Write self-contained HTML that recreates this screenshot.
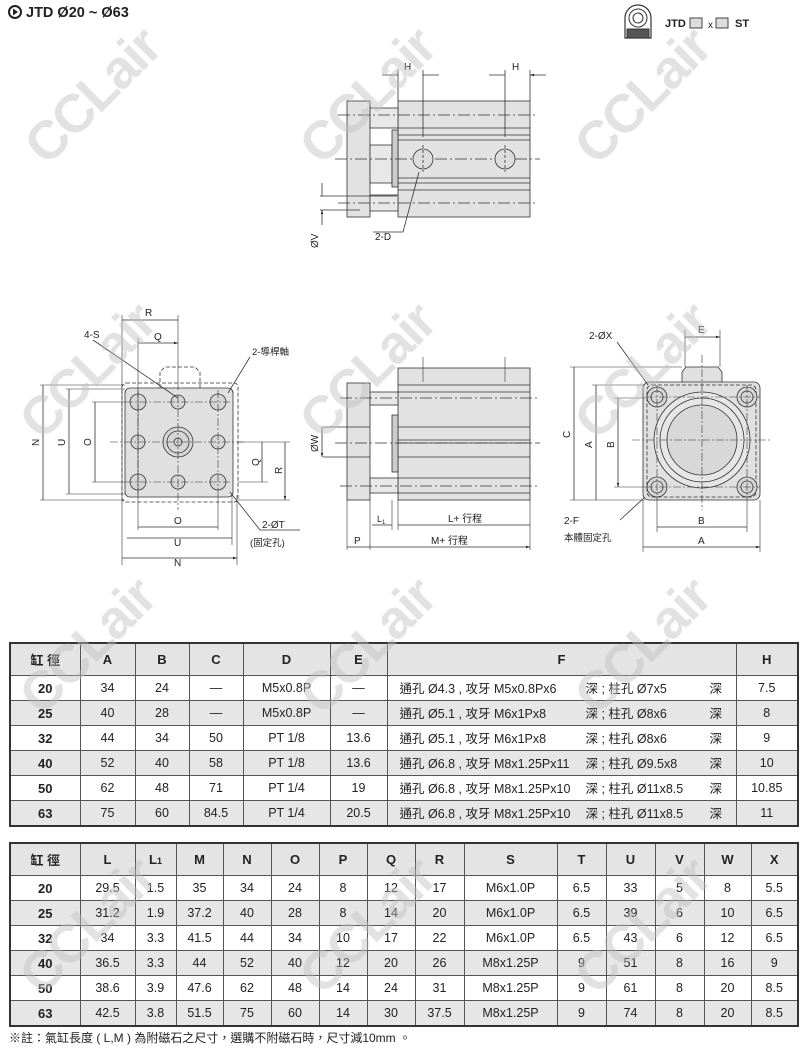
<!DOCTYPE html>
<html><head><meta charset="utf-8"><style>
body{margin:0;width:800px;height:1049px;background:#fff;position:relative;overflow:hidden;font-family:"Liberation Sans","Noto Sans CJK TC",sans-serif}
svg{position:absolute;left:0;top:0}
table{position:absolute;left:9px;border-collapse:collapse;table-layout:fixed;border:2px solid #333;font-family:"Liberation Sans Narrow","Liberation Sans","Noto Sans CJK TC",sans-serif;font-size:12.5px;color:#222}
td{border:1px solid #555;text-align:center;padding:0;height:24px;white-space:nowrap;overflow:hidden}
tr.h td{height:31px;font-weight:bold;font-family:"Liberation Sans","Noto Sans CJK TC",sans-serif;font-size:13px;background:#e4e4e4}
tr.g td{background:#e6e6e6}
td.b{font-weight:bold;font-family:"Liberation Sans",sans-serif;font-size:13px}
td.f{position:relative;text-align:left}
td.f span{position:absolute;top:2px}
.wm{position:absolute;font:bold 54px "Liberation Sans",sans-serif;color:rgba(190,190,190,0.45);transform:rotate(-45deg);white-space:nowrap;letter-spacing:-2px}
</style></head><body>
<svg width="800" height="640" viewBox="0 0 800 640" font-family="Liberation Sans, Noto Sans CJK TC, sans-serif" font-size="10" fill="#222">
<defs><marker id="a" viewBox="0 0 10 10" refX="10" refY="5" markerWidth="7" markerHeight="5" orient="auto-start-reverse"><path d="M0,2 L10,5 L0,8z" fill="#222"/></marker></defs>
<circle cx="15" cy="12" r="6" fill="none" stroke="#222" stroke-width="2"/><path d="M13,8.5 L18,12 L13,15.5z" fill="#222"/>
<text x="26" y="17" font-size="14.5" font-weight="bold">JTD Ø20 ~ Ø63</text>
<g transform="translate(620,0)" fill="none" stroke="#333">
<path d="M5,38 L5,18 A13,13 0 0 1 31,18 L31,38 Z" stroke-width="1.2"/><circle cx="18" cy="18" r="9"/><circle cx="18" cy="18" r="5"/><rect x="7" y="29" width="22" height="9" fill="#555"/></g>
<text x="665" y="27" font-size="11" font-weight="bold">JTD</text>
<rect x="690" y="18" width="12" height="10" fill="#ddd" stroke="#444"/>
<text x="708" y="28" font-size="10">x</text>
<rect x="716" y="18" width="12" height="10" fill="#ddd" stroke="#444"/>
<text x="735" y="27" font-size="11" font-weight="bold">ST</text>

<g stroke="#333" stroke-width="0.8">
<rect x="347" y="101" width="23" height="116" fill="#e2e2e2"/>
<rect x="398" y="101" width="132" height="116" fill="#e2e2e2"/>
<rect x="370" y="108" width="28" height="20" fill="#e8e8e8"/>
<rect x="370" y="145" width="22" height="38" fill="#e8e8e8"/>
<rect x="370" y="195" width="28" height="16" fill="#e8e8e8"/>
<rect x="392" y="130" width="6" height="57" fill="#ccc"/>
<path d="M398,128H530M398,135H530M398,140H530M398,178H530M398,183H530M398,190H530" fill="none"/>
<path d="M338,115H538M335,159H540M338,203H538" stroke-dasharray="12,3,2,3" fill="none"/>
<circle cx="423" cy="159" r="10" fill="#ddd"/><circle cx="505" cy="159" r="10" fill="#ddd"/>
<path d="M423,145V172M505,145V172" stroke-dasharray="3,2"/>
<path d="M398,70V101M423,70V137M505,70V137M530,70V101" fill="none"/>
<path d="M382,75H398M439,75H423M489,75H505M546,75H530" marker-end="url(#a)" fill="none"/>
<path d="M320,196H397M320,210H360" fill="none"/>
<path d="M322,183V196M322,225V210" marker-end="url(#a)" fill="none"/>
<path d="M373,232H403L419,172" fill="none"/>
<rect x="122" y="383" width="116" height="119" rx="4" fill="none" stroke-dasharray="4,2"/>
<rect x="125" y="388" width="108" height="109" rx="5" fill="#e0e0e0"/>
<path d="M160,388V372L165,367H195L200,372V388" fill="none" stroke-dasharray="4,2"/>
<g fill="#d6d6d6">
<circle cx="138" cy="402" r="8"/><circle cx="178" cy="402" r="7"/><circle cx="218" cy="402" r="8"/>
<circle cx="138" cy="442" r="7"/><circle cx="178" cy="442" r="15"/><circle cx="218" cy="442" r="7"/>
<circle cx="138" cy="482" r="8"/><circle cx="178" cy="482" r="7"/><circle cx="218" cy="482" r="8"/></g>
<circle cx="178" cy="442" r="11" fill="none"/><circle cx="178" cy="442" r="4" fill="none"/>
<path d="M110,442H245M178,395V510M125,402H230M125,482H230M138,390V495M218,390V495" stroke-dasharray="8,2,2,2" fill="none" stroke-width="0.6"/>
<path d="M122,315V565M138,338V530M178,315V390M237,495V565M232,495V545M218,495V530M40,385H125M66,389H125M92,402H125M238,442H290M238,482H268M238,500H290" fill="none" stroke-width="0.6"/>
<path d="M150,320H122M150,320H178M158,343H138M158,343H178" marker-end="url(#a)" fill="none"/>
<path d="M43,440V385M43,440V500M69,440V389M69,440V494M95,440V402M95,440V482M262,462V442M262,462V482M285,470V442M285,470V500" marker-end="url(#a)" fill="none"/>
<path d="M40,500H125M66,494H125M92,482H125" fill="none" stroke-width="0.6"/>
<path d="M178,527H138M178,527H218M178,538H127M178,538H232M178,558H122M178,558H237" marker-end="url(#a)" fill="none"/>
<path d="M93,340L178,398M250,357L228,393M300,530H260L230,492" fill="none"/>
<rect x="347" y="383" width="23" height="117" fill="#e2e2e2"/>
<rect x="398" y="368" width="132" height="132" fill="#e2e2e2"/>
<rect x="370" y="392" width="28" height="13" fill="#e8e8e8"/>
<rect x="370" y="478" width="28" height="15" fill="#e8e8e8"/>
<rect x="392" y="415" width="6" height="57" fill="#ccc"/>
<path d="M398,385H530M398,392H530M398,427H530M398,440H530M398,443H530M398,457H530M398,478H530M398,493H530M323,427H370M323,457H370" fill="none"/>
<path d="M340,398H538M335,443H540M340,486H538" stroke-dasharray="12,3,2,3" fill="none"/>
<path d="M423,357V382M505,357V382M347,500V550M370,500V550M392,500V530M398,500V530M530,500V550" fill="none" stroke-width="0.6"/>
<path d="M322,442V427M322,442V457" marker-end="url(#a)" fill="none"/>
<path d="M382,525H372M382,525H392M464,525H398M464,525H530M358,547H347M358,547H370M450,547H370M450,547H530" marker-end="url(#a)" fill="none"/>
<path d="M682,382V372L686,367H718L722,372V382" fill="#e0e0e0"/>
<rect x="643" y="382" width="117" height="118" rx="6" fill="#e0e0e0"/>
<rect x="647" y="385" width="109" height="112" rx="5" fill="none" stroke-dasharray="4,2"/>
<circle cx="702" cy="440" r="48" fill="#e6e6e6"/><circle cx="702" cy="440" r="42" fill="none"/><circle cx="702" cy="440" r="35" fill="#d8d8d8"/>
<g fill="#d6d6d6"><circle cx="657" cy="397" r="10"/><circle cx="747" cy="397" r="10"/><circle cx="657" cy="487" r="10"/><circle cx="747" cy="487" r="10"/></g>
<g fill="none"><circle cx="657" cy="397" r="6"/><circle cx="747" cy="397" r="6"/><circle cx="657" cy="487" r="6"/><circle cx="747" cy="487" r="6"/></g>
<path d="M632,440H772M702,355V510M645,397H760M645,487H760M657,385V500M747,385V500" stroke-dasharray="8,2,2,2" fill="none" stroke-width="0.6"/>
<path d="M685,330V367M720,330V367M570,367H682M592,385H645M614,398H645M570,500H645M592,500H645M614,487H645M643,500V552M760,500V552M657,500V532M747,500V532" fill="none" stroke-width="0.6"/>
<path d="M702,337H685M702,337H720" marker-end="url(#a)" fill="none"/>
<path d="M574,433V367M574,433V500M596,443V385M596,443V500M618,443V398M618,443V487" marker-end="url(#a)" fill="none"/>
<path d="M702,527H657M702,527H747M702,547H643M702,547H760" marker-end="url(#a)" fill="none"/>
<path d="M617,342L648,385M620,520L645,497" fill="none"/>
</g>
<g font-size="10">
<text x="404" y="70">H</text><text x="512" y="70">H</text>
<text x="375" y="240">2-D</text>
<text transform="translate(318,248) rotate(-90)">ØV</text>
<text x="145" y="316">R</text><text x="154" y="340">Q</text><text x="84" y="338">4-S</text>
<text x="252" y="355" font-size="9.5">2-導桿軸</text>
<text x="174" y="524">O</text><text x="174" y="546">U</text><text x="174" y="566">N</text>
<text x="262" y="528">2-ØT</text><text x="250" y="546" font-size="9.5">(固定孔)</text>
<text transform="translate(39,446) rotate(-90)">N</text>
<text transform="translate(65,446) rotate(-90)">U</text>
<text transform="translate(91,446) rotate(-90)">O</text>
<text transform="translate(259,466) rotate(-90)">Q</text>
<text transform="translate(282,474) rotate(-90)">R</text>
<text transform="translate(318,452) rotate(-90)">ØW</text>
<text x="377" y="522" font-size="9">L<tspan font-size="6" dy="2">1</tspan></text>
<text x="448" y="522">L+ 行程</text>
<text x="354" y="544">P</text>
<text x="431" y="544">M+ 行程</text>
<text x="589" y="339">2-ØX</text><text x="698" y="333">E</text>
<text transform="translate(570,438) rotate(-90)">C</text>
<text transform="translate(592,448) rotate(-90)">A</text>
<text transform="translate(614,448) rotate(-90)">B</text>
<text x="564" y="524">2-F</text><text x="564" y="541" font-size="9.5">本體固定孔</text>
<text x="698" y="524">B</text><text x="698" y="544">A</text>
</g>
</svg>

<table style="top:642px;width:790px">
<colgroup><col style="width:70px"><col style="width:55px"><col style="width:54px"><col style="width:54px"><col style="width:87px"><col style="width:57px"><col style="width:349px"><col style="width:62px"></colgroup>
<tr class="h"><td>缸 徑</td><td>A</td><td>B</td><td>C</td><td>D</td><td>E</td><td>F</td><td>H</td></tr>
<tr><td class="b">20</td><td>34</td><td>24</td><td>—</td><td>M5x0.8P</td><td>—</td><td class="f"><span style="left:12px">通孔 Ø4.3 , 攻牙 M5x0.8Px6</span><span style="left:198px">深 ; 柱孔 Ø7x5</span><span style="left:322px">深</span></td><td>7.5</td></tr>
<tr class="g"><td class="b">25</td><td>40</td><td>28</td><td>—</td><td>M5x0.8P</td><td>—</td><td class="f"><span style="left:12px">通孔 Ø5.1 , 攻牙 M6x1Px8</span><span style="left:198px">深 ; 柱孔 Ø8x6</span><span style="left:322px">深</span></td><td>8</td></tr>
<tr><td class="b">32</td><td>44</td><td>34</td><td>50</td><td>PT 1/8</td><td>13.6</td><td class="f"><span style="left:12px">通孔 Ø5.1 , 攻牙 M6x1Px8</span><span style="left:198px">深 ; 柱孔 Ø8x6</span><span style="left:322px">深</span></td><td>9</td></tr>
<tr class="g"><td class="b">40</td><td>52</td><td>40</td><td>58</td><td>PT 1/8</td><td>13.6</td><td class="f"><span style="left:12px">通孔 Ø6.8 , 攻牙 M8x1.25Px11</span><span style="left:198px">深 ; 柱孔 Ø9.5x8</span><span style="left:322px">深</span></td><td>10</td></tr>
<tr><td class="b">50</td><td>62</td><td>48</td><td>71</td><td>PT 1/4</td><td>19</td><td class="f"><span style="left:12px">通孔 Ø6.8 , 攻牙 M8x1.25Px10</span><span style="left:198px">深 ; 柱孔 Ø11x8.5</span><span style="left:322px">深</span></td><td>10.85</td></tr>
<tr class="g"><td class="b">63</td><td>75</td><td>60</td><td>84.5</td><td>PT 1/4</td><td>20.5</td><td class="f"><span style="left:12px">通孔 Ø6.8 , 攻牙 M8x1.25Px10</span><span style="left:198px">深 ; 柱孔 Ø11x8.5</span><span style="left:322px">深</span></td><td>11</td></tr>
</table>

<table style="top:842px;width:790px">
<colgroup><col style="width:70px"><col style="width:55px"><col style="width:41px"><col style="width:47px"><col style="width:48px"><col style="width:48px"><col style="width:48px"><col style="width:48px"><col style="width:49px"><col style="width:93px"><col style="width:49px"><col style="width:49px"><col style="width:49px"><col style="width:47px"><col style="width:47px"></colgroup>
<tr class="h"><td>缸 徑</td><td>L</td><td>L<span style="font-size:9px">1</span></td><td>M</td><td>N</td><td>O</td><td>P</td><td>Q</td><td>R</td><td>S</td><td>T</td><td>U</td><td>V</td><td>W</td><td>X</td></tr>
<tr><td class="b">20</td><td>29.5</td><td>1.5</td><td>35</td><td>34</td><td>24</td><td>8</td><td>12</td><td>17</td><td>M6x1.0P</td><td>6.5</td><td>33</td><td>5</td><td>8</td><td>5.5</td></tr>
<tr class="g"><td class="b">25</td><td>31.2</td><td>1.9</td><td>37.2</td><td>40</td><td>28</td><td>8</td><td>14</td><td>20</td><td>M6x1.0P</td><td>6.5</td><td>39</td><td>6</td><td>10</td><td>6.5</td></tr>
<tr><td class="b">32</td><td>34</td><td>3.3</td><td>41.5</td><td>44</td><td>34</td><td>10</td><td>17</td><td>22</td><td>M6x1.0P</td><td>6.5</td><td>43</td><td>6</td><td>12</td><td>6.5</td></tr>
<tr class="g"><td class="b">40</td><td>36.5</td><td>3.3</td><td>44</td><td>52</td><td>40</td><td>12</td><td>20</td><td>26</td><td>M8x1.25P</td><td>9</td><td>51</td><td>8</td><td>16</td><td>9</td></tr>
<tr><td class="b">50</td><td>38.6</td><td>3.9</td><td>47.6</td><td>62</td><td>48</td><td>14</td><td>24</td><td>31</td><td>M8x1.25P</td><td>9</td><td>61</td><td>8</td><td>20</td><td>8.5</td></tr>
<tr class="g"><td class="b">63</td><td>42.5</td><td>3.8</td><td>51.5</td><td>75</td><td>60</td><td>14</td><td>30</td><td>37.5</td><td>M8x1.25P</td><td>9</td><td>74</td><td>8</td><td>20</td><td>8.5</td></tr>
</table>
<div style="position:absolute;left:9px;top:1029px;font-size:12px;color:#222">※註：氣缸長度 ( L,M ) 為附磁石之尺寸，選購不附磁石時，尺寸減10mm 。</div>

<div class="wm" style="left:10px;top:65px">CCLair</div>
<div class="wm" style="left:285px;top:65px">CCLair</div>
<div class="wm" style="left:560px;top:65px">CCLair</div>
<div class="wm" style="left:5px;top:340px">CCLair</div>
<div class="wm" style="left:285px;top:340px">CCLair</div>
<div class="wm" style="left:560px;top:340px">CCLair</div>
<div class="wm" style="left:5px;top:615px">CCLair</div>
<div class="wm" style="left:285px;top:615px">CCLair</div>
<div class="wm" style="left:560px;top:615px">CCLair</div>
<div class="wm" style="left:5px;top:895px">CCLair</div>
<div class="wm" style="left:285px;top:895px">CCLair</div>
<div class="wm" style="left:560px;top:895px">CCLair</div>
</body></html>
